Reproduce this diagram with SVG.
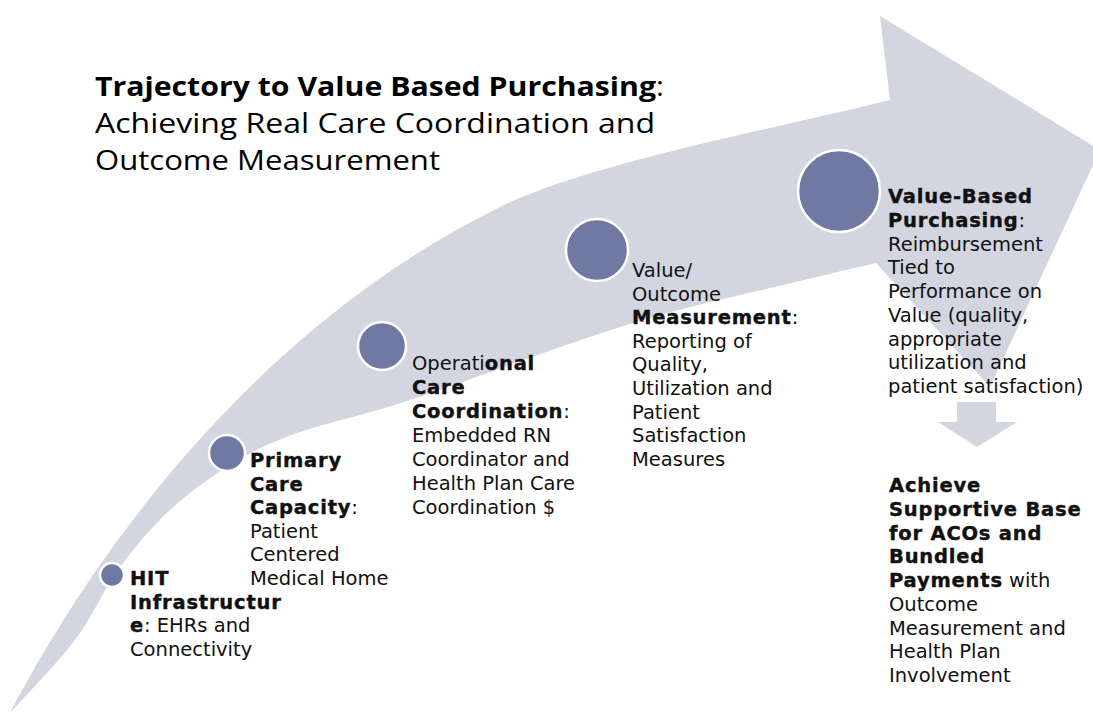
<svg xmlns="http://www.w3.org/2000/svg" width="1093" height="713" viewBox="0 0 1093 713">
<style>
.band{fill:#d3d6e0}
.dot{fill:#6f79a1;stroke:#ffffff;stroke-width:2.5}
.t{font-family:"DejaVu Sans","Liberation Sans",sans-serif;font-size:19.5px;fill:#111111}
.b{font-weight:bold;letter-spacing:0.8px;stroke:#111111;stroke-width:0.4}
.title{font-family:"Open Sans","Liberation Sans",sans-serif;font-size:27px;fill:#000000}
</style>
<rect width="1093" height="713" fill="#ffffff"/>
<g id="trajectory-arrow">
<path class="band" d="M10,713 C90,560 250,330 500,207 C590,163 770,130 890,100 L880,16 L1100,150 L990,387 L876,263 C863.3,266 840.5,271 800,281 C759.5,291 698,303.2 633,323 C568,342.8 465.5,381.8 410,400 C354.5,418.2 329.2,421.7 300,432 C270.8,442.3 256.7,449 235,462 C213.3,475 189.5,492 170,510 C150.5,528 133.8,548.3 118,570 C102.2,591.7 93,616.2 75,640 C57,663.8 20.8,700.8 10,713 Z"/>
</g>
<g id="title">
<text class="title" x="95" y="96" textLength="569" lengthAdjust="spacingAndGlyphs"><tspan font-weight="bold">Trajectory to Value Based Purchasing</tspan>:</text>
<text class="title" x="95" y="133" textLength="560" lengthAdjust="spacingAndGlyphs">Achieving Real Care Coordination and</text>
<text class="title" x="95" y="170" textLength="345" lengthAdjust="spacingAndGlyphs">Outcome Measurement</text>
</g>
<g id="connectors">
<path class="band" d="M957,402 L996,402 L996,422 L1017,422 L977,447 L938,422 L957,422 Z"/>
</g>
<g id="node-hit">
<circle class="dot" cx="112" cy="575" r="12"/>
<text class="t" x="130" y="585"><tspan class="b">HIT</tspan></text>
<text class="t" x="130" y="608.6"><tspan class="b">Infrastructur</tspan></text>
<text class="t" x="130" y="632.2"><tspan class="b">e</tspan>: EHRs and</text>
<text class="t" x="130" y="655.8">Connectivity</text>
</g>
<g id="node-primary">
<circle class="dot" cx="227" cy="453" r="18"/>
<text class="t" x="250" y="467"><tspan class="b">Primary</tspan></text>
<text class="t" x="250" y="490.6"><tspan class="b">Care</tspan></text>
<text class="t" x="250" y="514.2"><tspan class="b">Capacity</tspan>:</text>
<text class="t" x="250" y="537.8">Patient</text>
<text class="t" x="250" y="561.4">Centered</text>
<text class="t" x="250" y="585">Medical Home</text>
</g>
<g id="node-operational">
<circle class="dot" cx="382" cy="346" r="24"/>
<text class="t" x="412" y="370">Operati<tspan class="b">onal</tspan></text>
<text class="t" x="412" y="394"><tspan class="b">Care</tspan></text>
<text class="t" x="412" y="418"><tspan class="b">Coordination</tspan>:</text>
<text class="t" x="412" y="442">Embedded RN</text>
<text class="t" x="412" y="466">Coordinator and</text>
<text class="t" x="412" y="490">Health Plan Care</text>
<text class="t" x="412" y="514">Coordination $</text>
</g>
<g id="node-value-outcome">
<circle class="dot" cx="597" cy="250" r="31"/>
<text class="t" x="632" y="277">Value/</text>
<text class="t" x="632" y="300.6">Outcome</text>
<text class="t" x="632" y="324.2"><tspan class="b">Measurement</tspan>:</text>
<text class="t" x="632" y="347.8">Reporting of</text>
<text class="t" x="632" y="371.4">Quality,</text>
<text class="t" x="632" y="395">Utilization and</text>
<text class="t" x="632" y="418.6">Patient</text>
<text class="t" x="632" y="442.2">Satisfaction</text>
<text class="t" x="632" y="465.8">Measures</text>
</g>
<g id="node-value-based">
<circle class="dot" cx="839" cy="191" r="41"/>
<text class="t" x="888" y="203"><tspan class="b">Value-Based</tspan></text>
<text class="t" x="888" y="226.75"><tspan class="b">Purchasing</tspan>:</text>
<text class="t" x="888" y="250.5">Reimbursement</text>
<text class="t" x="888" y="274.25">Tied to</text>
<text class="t" x="888" y="298">Performance on</text>
<text class="t" x="888" y="321.75">Value (quality,</text>
<text class="t" x="888" y="345.5">appropriate</text>
<text class="t" x="888" y="369.25">utilization and</text>
<text class="t" x="888" y="393">patient satisfaction)</text>
</g>
<g id="node-achieve">
<text class="t" x="889" y="492"><tspan class="b">Achieve</tspan></text>
<text class="t" x="889" y="515.75"><tspan class="b">Supportive Base</tspan></text>
<text class="t" x="889" y="539.5"><tspan class="b">for ACOs and</tspan></text>
<text class="t" x="889" y="563.25"><tspan class="b">Bundled</tspan></text>
<text class="t" x="889" y="587"><tspan class="b">Payments</tspan> with</text>
<text class="t" x="889" y="610.75">Outcome</text>
<text class="t" x="889" y="634.5">Measurement and</text>
<text class="t" x="889" y="658.25">Health Plan</text>
<text class="t" x="889" y="682">Involvement</text>
</g>
</svg>
